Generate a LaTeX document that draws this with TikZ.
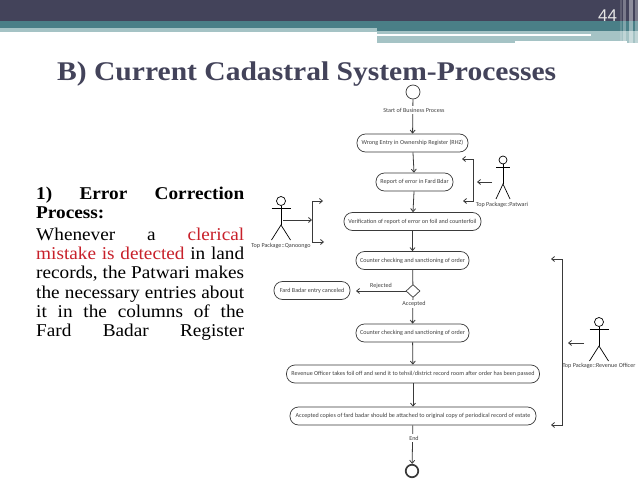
\documentclass[tikz,border=0pt]{standalone}
\usepackage{fontspec}
\setmainfont[FakeStretch=1.07]{Liberation Serif}
\newfontfamily\titlefont[FakeStretch=1.095]{Liberation Serif}
\newfontfamily\numfont{Liberation Sans}
\newfontfamily\umlfont{Carlito}
\usetikzlibrary{arrows.meta,shapes.geometric}
\definecolor{hdark}{HTML}{43435A}
\definecolor{hteal}{HTML}{4A7F87}
\definecolor{hlight}{HTML}{A5C3C5}
\definecolor{umlline}{HTML}{3A3A3A}
\definecolor{redtext}{HTML}{C8202A}
\tikzset{
  activity/.style={draw=umlline,line width=.7pt,rounded corners=8.5pt,minimum height=18pt,inner sep=0pt,font=\umlfont\fontsize{6.1}{7}\selectfont,text=black!75},
  lbl/.style={font=\umlfont\fontsize{6.1}{7}\selectfont,text=black!75,inner sep=0pt},
  onlinelbl/.style={lbl,fill=white,inner sep=1.5pt},
  flow/.style={draw=umlline,line width=.8pt,-{Straight Barb[length=3pt,width=5pt]}},
  bar/.style={draw=umlline,line width=.8pt},
  actorline/.style={draw=black,line width=.7pt},
  boldline/.style={font=\bfseries\fontsize{18}{19}\selectfont,anchor=base west,inner sep=0pt},
  bodyline/.style={font=\fontsize{18}{19}\selectfont,anchor=base west,inner sep=0pt}
}
% x, y of head centre, head radius, half width of arms, half width of legs
\newcommand{\umlactor}[4]{%
  \draw[actorline] (#1,#2) circle (#3pt);
  \draw[actorline] (#1,#2+#3) -- (#1,#2+24);
  \draw[actorline] (#1-#4,#2+7.5) -- (#1+#4,#2+7.5);
  \draw[actorline] (#1-#4,#2+39) -- (#1,#2+24) -- (#1+#4,#2+39);
}
\begin{document}
\begin{tikzpicture}[x=1pt,y=-1pt]
\useasboundingbox (0,0) rectangle (638,479);
\fill[white] (0,0) rectangle (638,479);
% header
\fill[hdark] (0,0) rectangle (638,21);
\fill[hteal] (0,21) rectangle (377,28);
\fill[hlight] (0,28) rectangle (377,31.5);
\fill[hteal] (377,21) rectangle (638,31);
\fill[hlight] (377,31) rectangle (638,43);
\fill[white] (377,33.5) rectangle (591,36);
\fill[white] (515,41) rectangle (627,43);
\foreach \x/\w/\o in {620/1.5/.15,623/3/.3,629/4/.4,635/3/.3}
  \fill[white,opacity=\o] (\x,0) rectangle (\x+\w,43);
\node[font=\numfont\fontsize{17}{17}\selectfont,text=white!90!black,inner sep=0pt] (pagenum) at (607.5,16) {44};
% title
\node[anchor=base west,inner sep=0pt,text=hdark,font=\titlefont\bfseries\fontsize{27}{27}\selectfont] (title) at (57,80) {B) Current Cadastral System-Processes};
% left text
\node[boldline] (p1) at (36,199) {\makebox[208pt][s]{1) Error Correction}};
\node[boldline] (p2) at (36,218) {Process:};
\node[bodyline] (l1) at (36,240) {\makebox[208pt][s]{Whenever a \textcolor{redtext}{clerical}}};
\node[bodyline] (l2) at (36,259) {\makebox[208pt][s]{\textcolor{redtext}{mistake is detected} in land}};
\node[bodyline] (l3) at (36,278) {\makebox[208pt][s]{records, the Patwari makes}};
\node[bodyline] (l4) at (36,298) {\makebox[208pt][s]{the necessary entries about}};
\node[bodyline] (l5) at (36,317) {\makebox[208pt][s]{it in the columns of the}};
\node[bodyline] (l6) at (36,336) {\makebox[208pt][s]{Fard Badar Register}};
% diagram
\node[draw=umlline,line width=.7pt,circle,minimum size=14pt,inner sep=0pt] (start) at (413,92) {};
\node[activity,minimum width=111pt] (a1) at (412.5,143) {Wrong Entry in Ownership Register (RHZ)};
\node[activity,minimum width=77pt] (a2) at (414.5,182) {Report of error in Fard Bdar};
\node[activity,minimum width=137pt] (a3) at (412.5,221.5) {Verification of report of error on foil and counterfoil};
\node[activity,minimum width=113pt] (a4) at (412.5,260.5) {Counter checking and sanctioning of order};
\node[activity,minimum width=76pt] (a5) at (312,290.5) {Fard Badar entry canceled};
\node[draw=umlline,line width=.7pt,diamond,minimum width=14pt,minimum height=13pt,inner sep=0pt] (d) at (413,291) {};
\node[activity,minimum width=113pt] (a6) at (412.5,333) {Counter checking and sanctioning of order};
\node[activity,minimum width=253pt] (a7) at (413,374) {Revenue Officer takes foil off and send it to tehsil/district record room after order has been passed};
\node[activity,minimum width=246pt] (a8) at (413,416) {Accepted copies of fard badar should be attached to original copy of periodical record of estate};
\node[draw=umlline,line width=1.7pt,circle,minimum size=12.5pt,inner sep=0pt] (stop) at (412,471) {};
\draw[flow] (start) -- (a1);
\draw[flow] (a1) -- (a2);
\draw[flow] (a2) -- (a3);
\draw[flow] (a3) -- (a4);
\draw[bar] (a4) -- (d);
\coordinate (a5tip) at (356,291);
\draw[flow] (d) -- (a5tip);
\draw[flow] (d) -- (a6);
\draw[flow] (a6) -- (a7);
\draw[flow] (a7) -- (a8);
\draw[flow] (a8) -- (stop);
\node[onlinelbl] (startl) at (414,110) {Start of Business Process};
\node[lbl] (rej) at (381,286) {Rejected};
\node[onlinelbl] (acc) at (414,304) {Accepted};
\node[onlinelbl] (endl) at (414,438) {End};
% Patwari
\umlactor{503}{160}{4}{7}
\node[lbl] (patl) at (502,205) {Top Package::Patwari};
\coordinate (pt) at (462,159); \coordinate (pc) at (473,159); \coordinate (pd) at (473,201); \coordinate (pb) at (463,201);
\coordinate (pa) at (492,182); \coordinate (pf) at (477,182);
\draw[flow] (pc) -- (pt);
\draw[flow] (pc) -- (pd) -- (pb);
\draw[flow] (pa) -- (pf);
% Qanoongo
\umlactor{281}{201}{4.5}{9.5}
\node[lbl] (qanl) at (281,246) {Top Package::Qanoongo};
\coordinate (qc) at (312,201); \coordinate (qt) at (323,201); \coordinate (qd) at (312,242); \coordinate (qb) at (324,242);
\coordinate (qa) at (283,220); \coordinate (qf) at (312,220);
\draw[flow] (qc) -- (qt);
\draw[flow] (qc) -- (qd) -- (qb);
\draw[flow] (qa) -- (qf);
% Revenue Officer
\umlactor{599}{322}{4.5}{9.5}
\node[lbl] (revl) at (599,366) {Top Package::Revenue Officer};
\coordinate (rc) at (562,259); \coordinate (rt) at (551,259); \coordinate (rd) at (562,425); \coordinate (rb) at (551,425);
\coordinate (ra) at (584,343); \coordinate (rf) at (568,343);
\draw[flow] (rc) -- (rt);
\draw[flow] (rc) -- (rd) -- (rb);
\draw[flow] (ra) -- (rf);
\end{tikzpicture}
\end{document}
